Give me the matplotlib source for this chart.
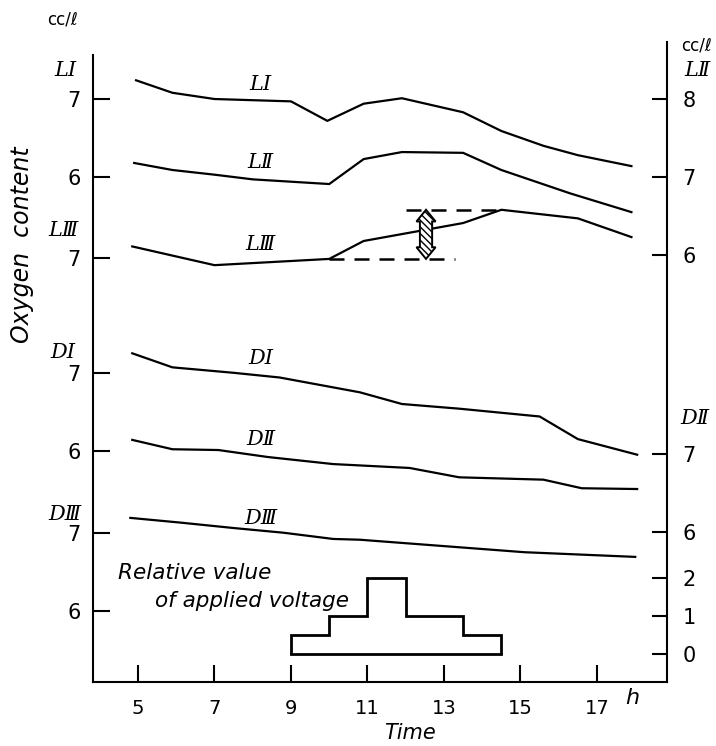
import matplotlib
matplotlib.use('Agg')
import matplotlib.pyplot as plt
from matplotlib.patches import Polygon

# light series (cc/l), hours of day
hours_LI = [4.95, 5.9, 7.0, 9.0, 9.95, 10.9, 11.9, 13.5, 14.5, 15.6, 16.5, 17.9]
LI = [7.24, 7.08, 7.00, 6.97, 6.72, 6.94, 7.01, 6.83, 6.59, 6.40, 6.28, 6.14]

hours_LII = [4.9, 5.9, 7.0, 8.0, 10.0, 10.9, 11.9, 13.5, 14.5, 16.3, 17.9]
LII = [7.18, 7.09, 7.03, 6.97, 6.91, 7.23, 7.32, 7.31, 7.09, 6.79, 6.55]

hours_LIII = [4.85, 7.0, 10.0, 10.9, 13.5, 14.5, 16.5, 17.9]
LIII = [7.15, 6.91, 6.99, 7.22, 7.45, 7.62, 7.51, 7.27]

# dark series
hours_DI = [4.85, 5.9, 7.5, 8.7, 10.8, 11.9, 13.4, 15.5, 16.5, 18.05]
DI = [7.25, 7.07, 7.00, 6.94, 6.75, 6.60, 6.54, 6.44, 6.15, 5.95]

hours_DII = [4.85, 5.9, 7.1, 8.4, 10.1, 12.1, 13.4, 15.6, 16.6, 18.05]
DII = [7.18, 7.06, 7.05, 6.96, 6.87, 6.82, 6.70, 6.67, 6.56, 6.55]

hours_DIII = [4.8, 6.1, 7.5, 8.8, 10.1, 10.8, 15.1, 18.0]
DIII = [7.19, 7.13, 7.06, 7.00, 6.92, 6.91, 6.75, 6.69]

# relative value of applied voltage
volt_edges = [9, 10, 11, 12, 13.5, 14.5]
volt_levels = [0.5, 1, 2, 1, 0.5]

x_ticks = [5, 7, 9, 11, 13, 15, 17]

# vertical offsets of each curve on the shared sheet
off = {'LI': 0.0, 'LII': -1.0, 'LIII': -2.04, 'DI': -3.51, 'DII': -4.55, 'DIII': -5.56}
v_base, v_scale = -0.115, 0.487

fig = plt.figure(figsize=(7.16, 7.46), dpi=100)
ax = fig.add_axes([93 / 716, 64 / 746, 574 / 716, 640 / 746])
ax.set_xlim(3.824, 18.83)
ax.set_ylim(-0.474, 7.731)

lw = 1.6
for h, v, k in [(hours_LI, LI, 'LI'), (hours_LII, LII, 'LII'), (hours_LIII, LIII, 'LIII'),
                (hours_DI, DI, 'DI'), (hours_DII, DII, 'DII'), (hours_DIII, DIII, 'DIII')]:
    ax.plot(h, [y + off[k] for y in v], color='black', lw=lw)

# dashed reference lines and hatched double arrow on LIII
lo = LIII[2] + off['LIII']
hi = max(LIII) + off['LIII']
ax.plot([10.0, 13.3], [lo, lo], color='black', lw=1.8, dashes=(6, 4))
ax.plot([12.0, 14.5], [hi, hi], color='black', lw=1.8, dashes=(6, 4))
xc, sw, hw, hl = 12.53, 0.16, 0.25, 0.15
arrow = [(xc, hi), (xc + hw, hi - hl), (xc + sw, hi - hl), (xc + sw, lo + hl), (xc + hw, lo + hl),
         (xc, lo), (xc - hw, lo + hl), (xc - sw, lo + hl), (xc - sw, hi - hl), (xc - hw, hi - hl)]
ax.add_patch(Polygon(arrow, closed=True, facecolor='white', edgecolor='black', lw=1.4,
                     hatch='\\\\\\\\\\', zorder=3))

# voltage steps
ax.stairs([v_base + v_scale * v for v in volt_levels], volt_edges, baseline=v_base,
          fill=False, color='black', lw=2.0)
ax.plot([volt_edges[0], volt_edges[-1]], [v_base, v_base], color='black', lw=2.0)

# axes styling
for s in ['top', 'right']:
    ax.spines[s].set_visible(False)
ax.spines['left'].set_bounds(-0.474, 7.564)
ax.spines['left'].set_linewidth(1.5)
ax.spines['bottom'].set_linewidth(1.5)

ax.set_xticks(x_ticks)
ax.set_xticklabels([str(t) for t in x_ticks])
ax.tick_params(axis='x', direction='in', length=12, width=1.5, pad=12, labelsize=14)

left_pos = [7 + off['LI'], 6 + off['LI'], 7 + off['LIII'], 7 + off['DI'], 6 + off['DI'],
            7 + off['DIII'], 6 + off['DIII']]
left_lab = ['7', '6', '7', '7', '6', '7', '6']
ax.set_yticks(left_pos)
ax.set_yticklabels(left_lab)
ax.tick_params(axis='y', direction='in', length=12, width=1.5, pad=9, labelsize=15)

ax2 = ax.twinx()
ax2.set_ylim(ax.get_ylim())
for s in ['top', 'left', 'bottom']:
    ax2.spines[s].set_visible(False)
ax2.spines['right'].set_linewidth(1.5)
right_pos = [8 + off['LII'], 7 + off['LII'], 6 + off['LII'], 7 + off['DII'], 6 + off['DII'],
             v_base + v_scale * 2, v_base + v_scale * 1, v_base]
right_lab = ['8', '7', '6', '7', '6', '2', '1', '0']
ax2.set_yticks(right_pos)
ax2.set_yticklabels(right_lab)
ax2.tick_params(axis='y', direction='in', length=11, width=1.5, pad=11, labelsize=15)

# curve labels
serif = dict(family=['DejaVu Serif', 'DejaVu Sans'], style='italic', fontsize=15,
             ha='center', va='center')
for k, name in [('LI', 'LⅠ'), ('LII', 'LⅡ'), ('LIII', 'LⅢ'),
                ('DI', 'DⅠ'), ('DII', 'DⅡ'), ('DIII', 'DⅢ')]:
    ax.text(8.2, 7.18 + off[k], name, **serif)


def px(x, y):
    return x / 716, 1 - y / 746


fig.text(*px(62, 20), 'cc/ℓ', fontsize=12, ha='center', va='center')
fig.text(*px(697, 45), 'cc/ℓ', fontsize=12, ha='center', va='center')
fig.text(*px(697, 70), 'LⅡ', **serif)
fig.text(*px(65, 70), 'LⅠ', **serif)
fig.text(*px(63, 230), 'LⅢ', **serif)
fig.text(*px(63, 352), 'DⅠ', **serif)
fig.text(*px(65, 514), 'DⅢ', **serif)
fig.text(*px(695, 418), 'DⅡ', **serif)

fig.text(*px(22, 245), 'Oxygen  content', rotation=90, fontsize=17, style='italic',
         ha='center', va='center')
fig.text(*px(410, 733), 'Time', fontsize=15, style='italic', ha='center', va='center')
fig.text(*px(632, 698), 'h', fontsize=16, style='italic', ha='center', va='center')
fig.text(*px(118, 573), 'Relative value', fontsize=15.5, style='italic', ha='left', va='center')
fig.text(*px(155, 601), 'of applied voltage', fontsize=15.5, style='italic', ha='left', va='center')

fig.savefig('out.png', dpi=100)
